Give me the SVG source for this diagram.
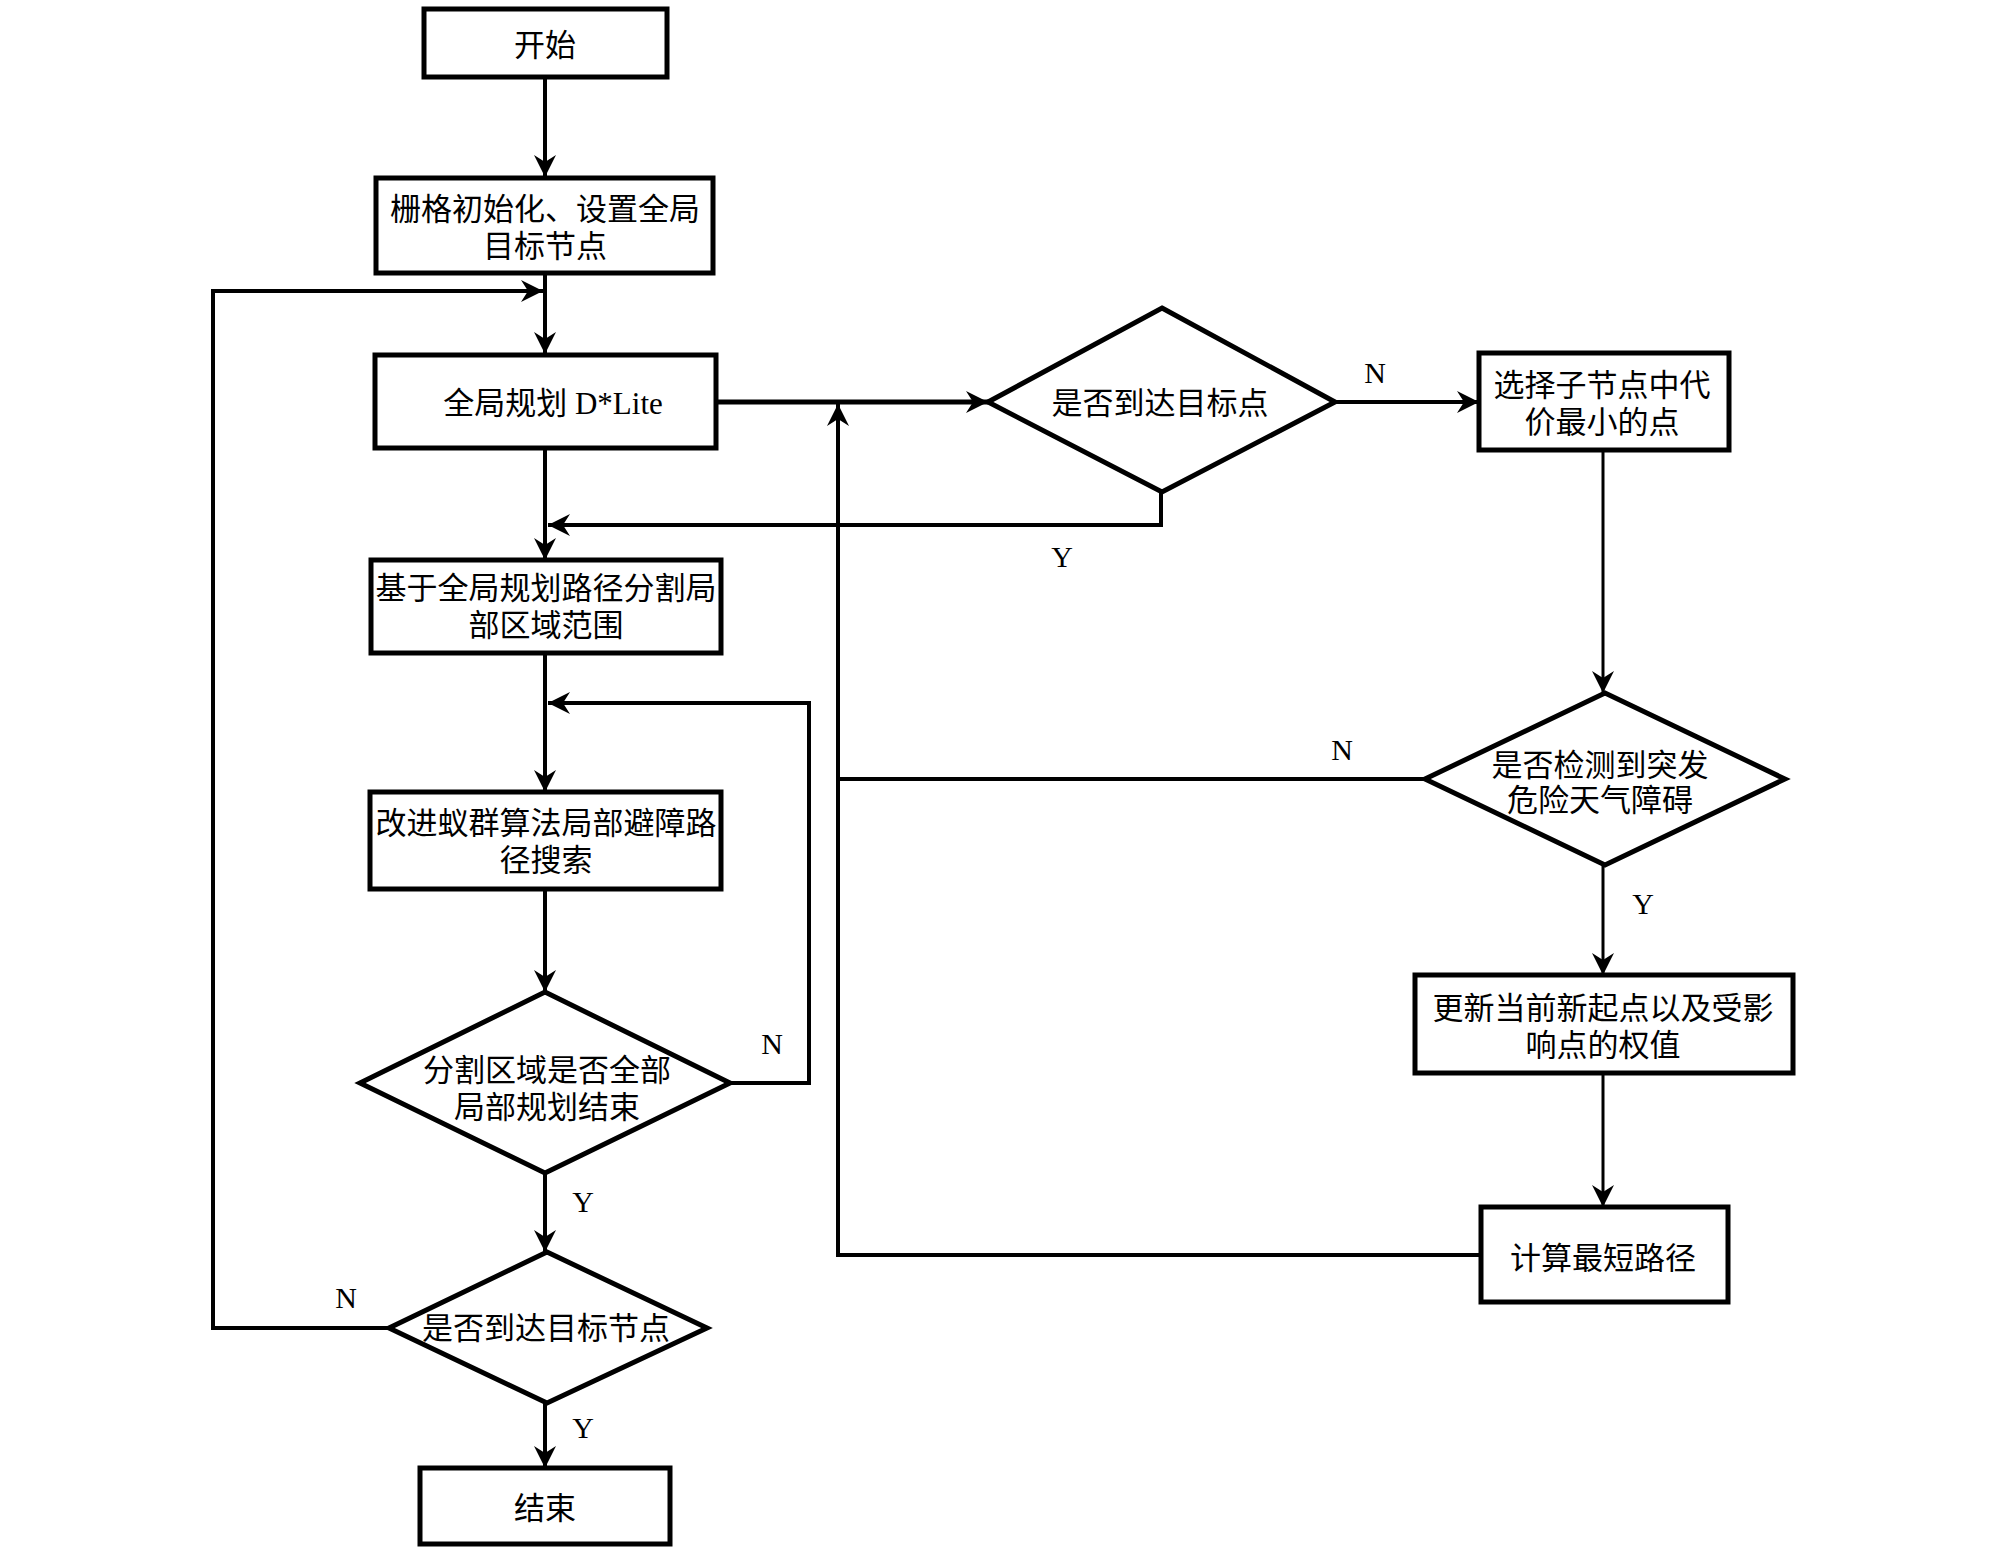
<svg xmlns="http://www.w3.org/2000/svg" width="2008" height="1551" viewBox="0 0 2008 1551">
<style>
.box{fill:#fff;stroke:#000;stroke-width:5}
.t{font-family:"Liberation Serif","Noto Sans CJK SC",serif;font-size:31px;fill:#000;text-anchor:middle;dominant-baseline:central}
.lbl{font-family:"Liberation Serif","Noto Sans CJK SC",serif;font-size:30px;fill:#000;text-anchor:middle;dominant-baseline:central}
.c{fill:none;stroke:#000;stroke-width:4}
.ct{fill:none;stroke:#000;stroke-width:3}
</style>
<defs>
<marker id="ah" viewBox="0 0 22 22" refX="22" refY="11" markerWidth="22" markerHeight="22" markerUnits="userSpaceOnUse" orient="auto">
<path d="M0,0 L22,11 L0,22 L7,11 Z" fill="#000"/>
</marker>
</defs>
<rect width="2008" height="1551" fill="#fff"/>
<g id="connectors">
<path class="c" d="M545,77 V177" marker-end="url(#ah)"/>
<path class="c" d="M545,273 V354" marker-end="url(#ah)"/>
<path class="c" d="M389,1328 H213 V291 H543" marker-end="url(#ah)"/>
<path class="c" d="M545,448 V560" marker-end="url(#ah)"/>
<path class="c" d="M1161,492 V525 H548" marker-end="url(#ah)"/>
<path class="c" style="stroke-width:5" d="M716,402 H988" marker-end="url(#ah)"/>
<path class="c" d="M1335,402 H1479" marker-end="url(#ah)"/>
<path class="ct" d="M1603,450 V693" marker-end="url(#ah)"/>
<path class="c" d="M1425,779 H838"/>
<path class="ct" d="M1603,865 V975" marker-end="url(#ah)"/>
<path class="ct" d="M1603,1073 V1207" marker-end="url(#ah)"/>
<path class="c" d="M1481,1255 H838 V404" marker-end="url(#ah)"/>
<path class="c" d="M545,653 V792" marker-end="url(#ah)"/>
<path class="c" d="M545,889 V992" marker-end="url(#ah)"/>
<path class="c" d="M730,1083 H809 V703 H548" marker-end="url(#ah)"/>
<path class="c" d="M545,1173 V1252" marker-end="url(#ah)"/>
<path class="c" d="M545,1403 V1468" marker-end="url(#ah)"/>
<text class="lbl" x="1375" y="372">N</text>
<text class="lbl" x="1062" y="556">Y</text>
<text class="lbl" x="1342" y="749">N</text>
<text class="lbl" x="1643" y="903">Y</text>
<text class="lbl" x="772" y="1043">N</text>
<text class="lbl" x="583" y="1201">Y</text>
<text class="lbl" x="346" y="1297">N</text>
<text class="lbl" x="583" y="1427">Y</text>
</g>
<g id="start"><rect class="box" x="424" y="9" width="243" height="68"/><text class="t" x="545" y="45">开始</text></g>
<g id="init"><rect class="box" x="376" y="178" width="337" height="95"/><text class="t" x="545" y="209">栅格初始化、设置全局</text><text class="t" x="545" y="246">目标节点</text></g>
<g id="global"><rect class="box" x="375" y="355" width="341" height="93"/><text class="t" x="553" y="403">全局规划 D*Lite</text></g>
<g id="split"><rect class="box" x="371" y="560" width="350" height="93"/><text class="t" x="546" y="588">基于全局规划路径分割局</text><text class="t" x="546" y="625">部区域范围</text></g>
<g id="aco"><rect class="box" x="370" y="792" width="351" height="97"/><text class="t" x="546" y="823">改进蚁群算法局部避障路</text><text class="t" x="546" y="860">径搜索</text></g>
<g id="allDone"><polygon class="box" points="545,992 730,1083 545,1173 360,1083"/><text class="t" x="547" y="1070">分割区域是否全部</text><text class="t" x="547" y="1107">局部规划结束</text></g>
<g id="reachNode"><polygon class="box" points="547,1252 707,1328 547,1403 389,1328"/><text class="t" x="546" y="1328">是否到达目标节点</text></g>
<g id="end"><rect class="box" x="420" y="1468" width="250" height="76"/><text class="t" x="545" y="1508">结束</text></g>
<g id="reachPoint"><polygon class="box" points="1162,308 1335,402 1162,492 988,402"/><text class="t" x="1160" y="403">是否到达目标点</text></g>
<g id="select"><rect class="box" x="1479" y="353" width="250" height="97"/><text class="t" x="1602" y="385">选择子节点中代</text><text class="t" x="1602" y="422">价最小的点</text></g>
<g id="detect"><polygon class="box" points="1605,693 1785,779 1605,865 1425,779"/><text class="t" x="1600" y="765">是否检测到突发</text><text class="t" x="1600" y="800">危险天气障碍</text></g>
<g id="update"><rect class="box" x="1415" y="975" width="378" height="98"/><text class="t" x="1603" y="1008">更新当前新起点以及受影</text><text class="t" x="1603" y="1045">响点的权值</text></g>
<g id="shortest"><rect class="box" x="1481" y="1207" width="247" height="95"/><text class="t" x="1603" y="1258">计算最短路径</text></g>
</svg>
